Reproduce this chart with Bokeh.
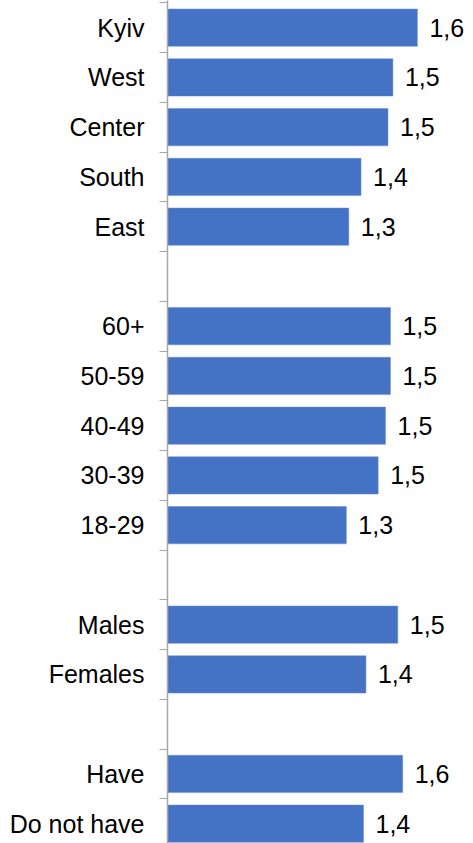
from bokeh.plotting import figure
from bokeh.models import ColumnDataSource, Range1d, FixedTicker
from bokeh.core.properties import value
from bokeh.embed import file_html
from bokeh.resources import INLINE

# ---- data ----
region_labels = ["Kyiv", "West", "Center", "South", "East"]
region_values = [1.62, 1.52, 1.50, 1.39, 1.34]
age_labels = ["60+", "50-59", "40-49", "30-39", "18-29"]
age_values = [1.51, 1.51, 1.49, 1.46, 1.33]
gender_labels = ["Males", "Females"]
gender_values = [1.54, 1.41]
have_labels = ["Have", "Do not have"]
have_values = [1.56, 1.40]

groups = [(region_labels, region_values), (age_labels, age_values),
          (gender_labels, gender_values), (have_labels, have_values)]

names, vals, pos = [], [], []
slot = 0
for gi, (labs, vs) in enumerate(groups):
    if gi > 0:
        slot += 1  # empty slot between groups
    for l, v in zip(labs, vs):
        names.append(l)
        vals.append(v)
        pos.append(slot)
        slot += 1
n_slots = slot

texts = [f"{v:.1f}".replace(".", ",") for v in vals]
src = ColumnDataSource(dict(y=pos, v=vals, name=names, t=texts))

# ---- layout ----
W, H = 473, 843
LEFT = 167
X0 = 0.6
PX_PER_UNIT = 245.0
BAND = 49.75
TOP_OFF = 2.3  # band 0 top relative to figure top
frame_w = W - LEFT
y_top = -0.5 - TOP_OFF / BAND
y_bot = y_top + H / BAND

FONT = "Liberation Sans"
FS = "25px"

p = figure(width=W, height=H, output_backend="svg", toolbar_location=None,
           x_range=Range1d(X0, X0 + frame_w / PX_PER_UNIT),
           y_range=Range1d(y_bot, y_top),
           x_axis_location=None, min_border_left=LEFT, min_border_right=0,
           min_border_top=0, min_border_bottom=0)
p.outline_line_color = None
p.xgrid.visible = False
p.ygrid.visible = False
p.background_fill_color = "white"
p.border_fill_color = "white"

p.hbar(y="y", left=X0, right="v", height=0.75, source=src,
       fill_color="#4472C4", line_color="#6d8fd0", line_width=0.5)

p.text(x="v", y="y", text="t", source=src, x_offset=12,
       text_baseline="middle", text_align="left",
       text_font=value(FONT), text_font_size=FS, text_color="black")

ax = p.yaxis[0]
ax.ticker = FixedTicker(ticks=pos, minor_ticks=[i + 0.5 for i in range(-1, n_slots)])
ax.major_label_overrides = {int(y): nm for y, nm in zip(pos, names)}
ax.major_tick_out = 0
ax.major_tick_in = 0
ax.minor_tick_out = 8
ax.minor_tick_in = 0
ax.minor_tick_line_color = "#a6a6a6"
ax.axis_line_color = "#a6a6a6"
ax.axis_line_width = 1.5
ax.major_label_standoff = 15
ax.major_label_text_font = FONT
ax.major_label_text_font_size = FS
ax.major_label_text_color = "black"

open("out.html", "w").write(file_html(p, INLINE))
